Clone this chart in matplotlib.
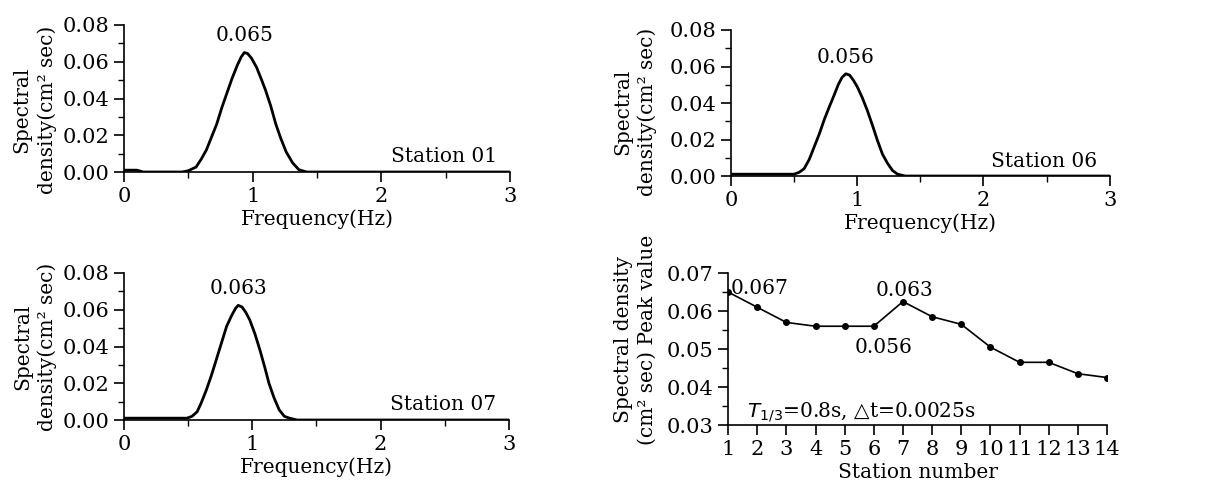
import matplotlib.pyplot as plt
from matplotlib.ticker import MultipleLocator, FormatStrFormatter

plt.rcParams['font.family'] = ['DejaVu Serif', 'DejaVu Sans']

# spectra (Hz, cm^2 sec)
freq_01 = [0, 0.1, 0.15, 0.45, 0.5, 0.56, 0.6, 0.64, 0.68, 0.72, 0.76, 0.8, 0.84, 0.88,
           0.91, 0.935, 0.96, 0.99, 1.03, 1.07, 1.1, 1.14, 1.18, 1.22, 1.26, 1.31, 1.36,
           1.42, 2.0, 3.0]
dens_01 = [0.001, 0.001, 0.0, 0.0, 0.0007, 0.0027, 0.007, 0.012, 0.019, 0.026, 0.035, 0.043,
           0.051, 0.058, 0.0625, 0.065, 0.0645, 0.062, 0.057, 0.05, 0.0445, 0.036, 0.026,
           0.018, 0.011, 0.005, 0.0012, 0.0, 0.0, 0.0]

freq_06 = [0, 0.3, 0.5, 0.54, 0.58, 0.62, 0.66, 0.7, 0.74, 0.78, 0.81, 0.85, 0.88, 0.91,
           0.94, 0.97, 1.0, 1.04, 1.08, 1.12, 1.16, 1.2, 1.24, 1.28, 1.32, 1.38, 2.0, 3.0]
dens_06 = [0.001, 0.001, 0.001, 0.002, 0.004, 0.009, 0.016, 0.023, 0.031, 0.038, 0.043,
           0.05, 0.054, 0.056, 0.0553, 0.0525, 0.049, 0.043, 0.036, 0.028, 0.0196, 0.012,
           0.007, 0.003, 0.001, 0.0, 0.0, 0.0]

freq_07 = [0, 0.3, 0.49, 0.53, 0.57, 0.6, 0.64, 0.68, 0.72, 0.76, 0.8, 0.84, 0.87, 0.89,
           0.92, 0.95, 0.98, 1.02, 1.06, 1.1, 1.13, 1.17, 1.21, 1.25, 1.29, 1.35, 2.0, 3.0]
dens_07 = [0.001, 0.001, 0.001, 0.002, 0.0045, 0.009, 0.016, 0.024, 0.033, 0.042, 0.051,
           0.057, 0.0608, 0.0624, 0.0615, 0.0585, 0.0545, 0.047, 0.038, 0.028, 0.02, 0.012,
           0.0055, 0.002, 0.001, 0.0, 0.0, 0.0]

spectra = [
    ('Station 01', freq_01, dens_01, '0.065', 0.94),
    ('Station 06', freq_06, dens_06, '0.056', 0.91),
    ('Station 07', freq_07, dens_07, '0.063', 0.89),
]

# peak values per station
stations = list(range(1, 15))
peaks = [0.065, 0.061, 0.057, 0.056, 0.056, 0.056, 0.0625, 0.0585, 0.0565, 0.0505,
         0.0465, 0.0465, 0.0435, 0.0425]

fig = plt.figure(figsize=(12.1, 4.95), dpi=100)
boxes = [
    [0.1025, 0.6525, 0.319, 0.297],
    [0.604, 0.6444, 0.3132, 0.295],
    [0.1025, 0.1515, 0.318, 0.297],
]
label_xy = [(-0.174, 0.42), (-0.195, 0.44), (-0.174, 0.50)]
FS = 14.5
TFS = 15


def style_axes(ax):
    for s in ['top', 'right']:
        ax.spines[s].set_visible(False)
    for s in ['left', 'bottom']:
        ax.spines[s].set_linewidth(1.2)
    ax.tick_params(which='major', direction='out', length=7, width=1.2, labelsize=TFS)
    ax.tick_params(which='minor', direction='out', length=4, width=1.0)


for box, lxy, (name, f, d, peak_txt, fpk) in zip(boxes, label_xy, spectra):
    ax = fig.add_axes(box)
    ax.plot(f, d, color='black', lw=2.0, solid_joinstyle='round')
    ax.set_xlim(0, 3)
    ax.set_ylim(0, 0.08)
    ax.xaxis.set_major_locator(MultipleLocator(1))
    ax.xaxis.set_minor_locator(MultipleLocator(0.5))
    ax.yaxis.set_major_locator(MultipleLocator(0.02))
    ax.yaxis.set_minor_locator(MultipleLocator(0.01))
    ax.yaxis.set_major_formatter(FormatStrFormatter('%.2f'))
    style_axes(ax)
    ax.set_xlabel('Frequency(Hz)', fontsize=FS, labelpad=3)
    ax.set_ylabel('Spectral\ndensity(cm² sec)', fontsize=FS,
                  multialignment='center', linespacing=1.35)
    ax.yaxis.set_label_coords(*lxy)
    ax.text(fpk, max(d) + 0.004, peak_txt, ha='center', va='bottom', fontsize=FS)
    ax.text(2.9, 0.003, name, ha='right', va='bottom', fontsize=FS)

ax = fig.add_axes([0.6017, 0.1414, 0.3132, 0.307])
ax.plot(stations, peaks, color='black', lw=1.2, marker='o', markersize=4)
ax.set_xlim(1, 14)
ax.set_ylim(0.03, 0.07)
ax.xaxis.set_major_locator(MultipleLocator(1))
ax.yaxis.set_major_locator(MultipleLocator(0.01))
ax.yaxis.set_minor_locator(MultipleLocator(0.005))
ax.yaxis.set_major_formatter(FormatStrFormatter('%.2f'))
style_axes(ax)
ax.set_xlabel('Station number', fontsize=FS, labelpad=3)
ax.set_ylabel('Spectral density\n(cm² sec) Peak value', fontsize=FS,
              multialignment='center', linespacing=1.35)
ax.yaxis.set_label_coords(-0.187, 0.56)
ax.text(1.1, 0.0658, '0.067', ha='left', va='center', fontsize=FS)
ax.text(7.05, 0.0655, '0.063', ha='center', va='center', fontsize=FS)
ax.text(6.35, 0.0505, '0.056', ha='center', va='center', fontsize=FS)
ax.text(1.65, 0.0302, '$T_{1/3}$=0.8s, △t=0.0025s', ha='left', va='bottom', fontsize=FS)

fig.savefig('out.png', dpi=100)
